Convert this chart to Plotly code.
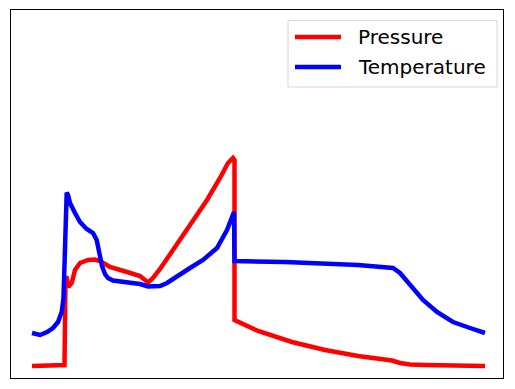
import plotly.graph_objects as go

# Pressure series (arbitrary units)
pressure_x = [32, 47, 63, 64.5, 65.5, 66.7, 68.3, 71.7, 75, 80, 88, 95, 100, 110, 127, 140, 145, 148,
              153, 160, 173, 190, 207, 220, 228, 233, 234.5, 234.5, 258, 292, 325, 358, 392, 400, 410,
              425, 485]
pressure_y = [23, 23, 24, 24, 111, 111, 102, 106, 119, 126, 129, 129.5, 128, 122, 117, 113, 109, 106.5,
              111, 120, 139, 164, 189, 211, 226, 231, 229, 69, 58, 47, 39, 33, 28.5, 26, 24.5,
              24, 23]

# Temperature series
temp_x = [32, 40, 47, 53, 58, 61.7, 63.5, 64.5, 65.3, 66.7, 68, 70, 75, 80, 86.7, 93, 96.7, 98, 100,
          102, 105, 108, 113, 127, 140, 148, 160, 167, 172, 177, 190, 203, 217, 227, 233, 234,
          234.5, 285, 358, 380, 393, 400, 410, 423, 437, 453, 470, 485]
temp_y = [56, 54, 57, 61, 67, 77, 91, 129, 184, 196.5, 194, 186, 176, 167, 160, 156, 149, 141, 131,
          123, 115, 111, 108.5, 107, 105, 102.5, 103, 106, 109, 113, 121, 129, 141, 159, 177, 177,
          128, 127, 124, 122.5, 121, 116, 104, 89, 77, 67, 61, 56]

series_names = ["Pressure", "Temperature"]
series_colors = ["#ff0000", "#0000ff"]

fig = go.Figure()
fig.add_trace(go.Scatter(x=pressure_x, y=pressure_y, mode="lines", name=series_names[0],
                         line=dict(color=series_colors[0], width=4.5), showlegend=False))
fig.add_trace(go.Scatter(x=temp_x, y=temp_y, mode="lines", name=series_names[1],
                         line=dict(color=series_colors[1], width=4.5), showlegend=False))

axis_common = dict(showgrid=False, zeroline=False, showticklabels=False, ticks="",
                   showline=True, mirror=True, linecolor="black", linewidth=1)
fig.update_xaxes(range=[11, 503], **axis_common)
fig.update_yaxes(range=[11, 379], **axis_common)

# Legend drawn matplotlib-style (frame, line samples, labels)
fig.add_shape(type="rect", xref="x", yref="y", x0=288, x1=497, y0=302, y1=368.5,
              line=dict(color="#d6d6d6", width=1), fillcolor="rgba(255,255,255,0.8)", layer="above")
legend_y = [352, 322]
for name, color, ly in zip(series_names, series_colors, legend_y):
    fig.add_shape(type="line", xref="x", yref="y", x0=295, x1=341, y0=ly, y1=ly,
                  line=dict(color=color, width=4.5), layer="above")
    fig.add_annotation(x=356, y=ly, xref="x", yref="y", text=name, showarrow=False,
                       xanchor="left", yanchor="middle",
                       font=dict(family="DejaVu Sans", size=20, color="black"))

fig.update_layout(
    width=515, height=389,
    margin=dict(l=11, r=12, t=10, b=11),
    plot_bgcolor="white", paper_bgcolor="white",
    font=dict(family="DejaVu Sans", size=20, color="black"),
    showlegend=False,
)

fig.write_html("out.html", config={"displayModeBar": False},
               post_script="document.body.style.margin='0px';")
